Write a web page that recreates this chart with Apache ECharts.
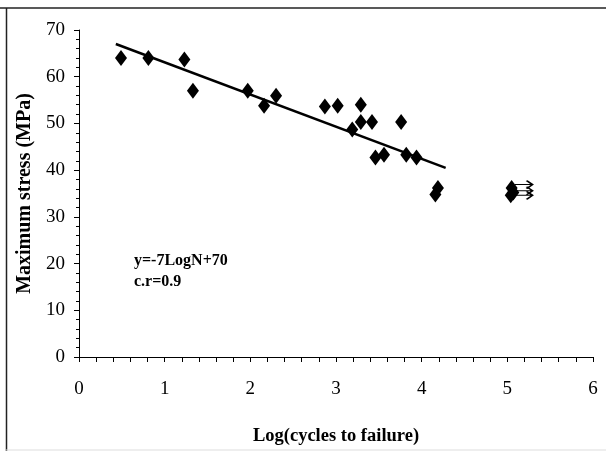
<!DOCTYPE html>
<html><head><meta charset="utf-8">
<script src="https://cdn.jsdelivr.net/npm/echarts@6/dist/echarts.min.js"></script>
<style>html,body{margin:0;padding:0;background:#fff}#c{width:606px;height:451px}</style>
</head><body><div id="c"></div>
<script>
// Fatigue data: [log(N), max stress MPa]
const failurePoints = [
  [0.49, 64.0], [0.81, 64.0], [1.23, 63.7], [1.33, 57.0], [1.97, 57.0],
  [2.16, 53.8], [2.30, 55.9], [2.87, 53.6], [3.02, 53.8], [3.29, 54.0],
  [3.29, 50.3], [3.42, 50.3], [3.19, 48.7], [3.76, 50.3], [3.46, 42.7],
  [3.56, 43.3], [3.82, 43.3], [3.94, 42.7], [4.16, 34.8], [4.19, 36.2]
];
const runoutPoints = [[5.05, 36.2], [5.07, 35.2], [5.04, 34.6]];
const runoutArrows = [[5.19, 36.9], [5.19, 35.6], [5.19, 34.6]];
const trendLine = [[0.43, 67.0], [4.28, 40.5]];
const xTicks = [0, 1, 2, 3, 4, 5, 6];
const yTicks = [0, 10, 20, 30, 40, 50, 60, 70];
const equationText = 'y=-7LogN+70';
const corrText = 'c.r=0.9';

const chart = echarts.init(document.getElementById('c'));
const serif = '"Liberation Serif", "DejaVu Serif", serif';
const diamond = 'diamond';
const arrowPath = 'path://M0,5 L18,5 M12,0 L18,5 L12,10';

chart.setOption({
  animation: false,
  backgroundColor: '#fff',
  grid: { left: 79, right: 13, top: 30, bottom: 93 },
  graphic: [
    { type: 'line', shape: { x1: 0, y1: 8, x2: 606, y2: 8 }, style: { stroke: '#222', lineWidth: 1.5 } },
    { type: 'line', shape: { x1: 6.5, y1: 8, x2: 6.5, y2: 451 }, style: { stroke: '#222', lineWidth: 1.5 } },
    { type: 'line', shape: { x1: 6, y1: 450, x2: 606, y2: 450 }, style: { stroke: '#ddd', lineWidth: 1 } },
    { type: 'text', left: 134, top: 253, style: { text: equationText, font: 'bold 16px ' + serif, fill: '#000' } },
    { type: 'text', left: 134, top: 274, style: { text: corrText, font: 'bold 16px ' + serif, fill: '#000' } }
  ],
  xAxis: {
    type: 'value', min: xTicks[0], max: xTicks[xTicks.length - 1], interval: 1,
    name: 'Log(cycles to failure)', nameLocation: 'middle', nameGap: 70,
    nameTextStyle: { fontFamily: serif, fontWeight: 'bold', fontSize: 18.5, color: '#000' },
    axisLine: { lineStyle: { color: '#000', width: 1 } },
    axisTick: { show: true, length: 5, lineStyle: { color: '#000' } },
    minorTick: { show: true, splitNumber: 5, length: 5, lineStyle: { color: '#000' } },
    axisLabel: { fontFamily: serif, fontSize: 19, color: '#000', margin: 23 },
    splitLine: { show: false }
  },
  yAxis: {
    type: 'value', min: yTicks[0], max: yTicks[yTicks.length - 1], interval: 10,
    name: 'Maximum stress (MPa)', nameLocation: 'middle', nameGap: 40, nameRotate: 90,
    nameTextStyle: { fontFamily: serif, fontWeight: 'bold', fontSize: 20, color: '#000' },
    axisLine: { show: true, lineStyle: { color: '#000', width: 1 } },
    axisTick: { show: true, length: 5, lineStyle: { color: '#000' } },
    minorTick: { show: true, splitNumber: 5, length: 3, lineStyle: { color: '#000' } },
    axisLabel: { fontFamily: serif, fontSize: 19, color: '#000', margin: 14 },
    splitLine: { show: false }
  },
  series: [
    { type: 'line', data: trendLine, symbol: 'none', lineStyle: { color: '#000', width: 2.5 }, z: 2 },
    { type: 'scatter', data: failurePoints, symbol: diamond, symbolSize: [12, 16], itemStyle: { color: '#000', opacity: 1 }, z: 3 },
    { type: 'scatter', data: runoutPoints, symbol: diamond, symbolSize: [12, 16], itemStyle: { color: '#000', opacity: 1 }, z: 3 },
    { type: 'scatter', data: runoutArrows, symbol: arrowPath, symbolSize: [18, 8],
      itemStyle: { color: 'none', borderColor: '#000', borderWidth: 1.5, opacity: 1 }, z: 4 }
  ]
});
</script></body></html>
